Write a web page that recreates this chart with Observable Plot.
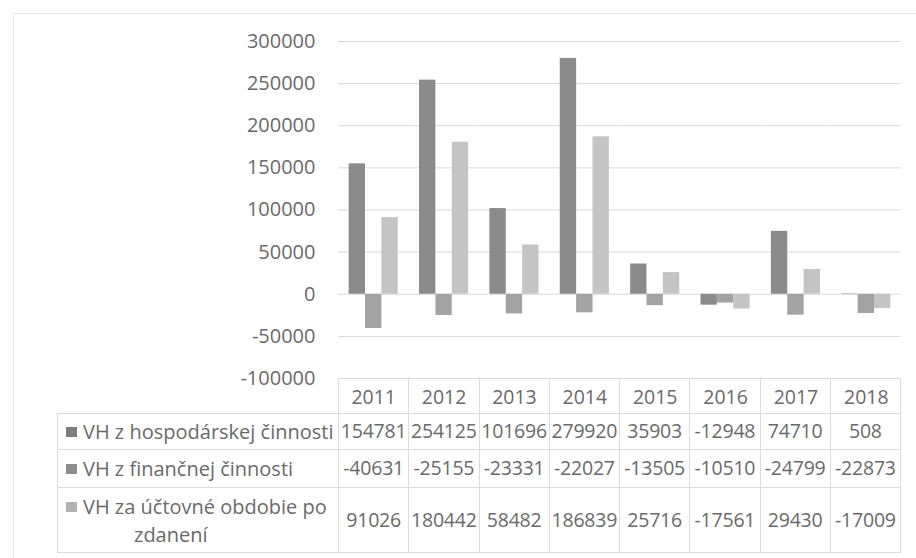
<!DOCTYPE html>
<html><head><meta charset="utf-8">
<script src="https://cdn.jsdelivr.net/npm/d3@7"></script>
<script src="https://cdn.jsdelivr.net/npm/@observablehq/plot@0.6"></script>
<style>
body{margin:0;background:#fff;}
#wrap{position:relative;width:916px;height:558px;overflow:hidden;font-family:"Open Sans",sans-serif;color:#6a6a6a;background:#fff;}
#frame{position:absolute;left:13px;top:13px;width:930px;height:570px;border-left:1px solid #e6e6e6;border-top:1px solid #e6e6e6;}
#chart{position:absolute;left:0;top:0;}
#chart svg g[aria-label^="y-axis"]{font-size:20px;}
#chart svg g[aria-label^="fx-axis"]{font-size:19.5px;}
#tbl{position:absolute;left:57px;top:378px;border-collapse:collapse;table-layout:fixed;width:844px;font-size:19.5px;}
#tbl td{border:1px solid #dcdcdc;padding:0;text-align:center;white-space:nowrap;line-height:1.25;letter-spacing:-0.2px;}
#tbl td.lab{text-align:left;padding-left:8px;font-size:20px;letter-spacing:0;}
#tbl td.lab3{line-height:1.4;padding-top:2px;}
#tbl tr.head td{height:34px;}
#tbl tr.head td.blank{border:none;}
.sw{display:inline-block;width:11px;height:10px;margin-right:6px;vertical-align:2px;}
.l2{padding-left:68px;}
</style></head>
<body>
<div id="wrap">
<div id="frame"></div>
<div id="chart"></div>
<table id="tbl"></table>
</div>
<script>
const years = ["2011","2012","2013","2014","2015","2016","2017","2018"];
const seriesNames = ["VH z hospodárskej činnosti","VH z finančnej činnosti","VH za účtovné obdobie po zdanení"];
const hosp = [154781,254125,101696,279920,35903,-12948,74710,508];
const fin = [-40631,-25155,-23331,-22027,-13505,-10510,-24799,-22873];
const net = [91026,180442,58482,186839,25716,-17561,29430,-17009];
const yTicks = [-100000,-50000,0,50000,100000,150000,200000,250000,300000];
const barColors = ["#8b8b8b","#a3a3a3","#c4c4c4"];
const swatchColors = ["#7d7d7d","#8e8e8e","#b3b3b3"];

const seriesValues = [hosp, fin, net];
const data = [];
years.forEach((yr, i) => seriesNames.forEach((s, j) => data.push({year: yr, series: s, value: seriesValues[j][i]})));

const chart = Plot.plot({
  width: 916, height: 413,
  marginLeft: 338, marginRight: 15, marginTop: 41, marginBottom: 35,
  style: {fontFamily: "Open Sans, sans-serif", fontSize: "19.5px", color: "#6a6a6a", background: "transparent", overflow: "visible"},
  facet: {data, x: "year", label: null},
  fx: {domain: years, padding: 0, round: false, label: null, tickSize: 0, tickPadding: 12},
  x: {domain: seriesNames, paddingInner: 0, paddingOuter: 0.65, round: false, axis: null},
  y: {domain: [-100000, 300000], ticks: yTicks, tickSize: 0, tickPadding: 23, label: null, tickFormat: d => String(d)},
  color: {domain: seriesNames, range: barColors},
  marks: [
    Plot.ruleY(yTicks, {stroke: "#d9d9d9", strokeWidth: 1}),
    Plot.barY(data, {x: "series", y: "value", fill: "series"})
  ]
});
document.getElementById("chart").appendChild(chart);

// data table
const tbl = document.getElementById("tbl");
let html = '<colgroup><col style="width:281px">' + years.map(() => '<col>').join('') + '</colgroup>';
html += '<tr class="head"><td class="blank"></td>' + years.map(() => '<td></td>').join('') + '</tr>';
const rowH = [36, 38, 65];
seriesNames.forEach((s, j) => {
  let label, cls = "lab";
  if (j === 2) {
    cls = "lab lab3";
    label = '<div><span class="sw" style="background:' + swatchColors[j] + '"></span>VH za účtovné obdobie po</div><div class="l2">zdanení</div>';
  } else {
    label = '<span class="sw" style="background:' + swatchColors[j] + '"></span>' + s;
  }
  html += '<tr style="height:' + rowH[j] + 'px"><td class="' + cls + '">' + label + '</td>' +
    seriesValues[j].map(v => '<td>' + v + '</td>').join('') + '</tr>';
});
tbl.innerHTML = html;
</script>
</body></html>
